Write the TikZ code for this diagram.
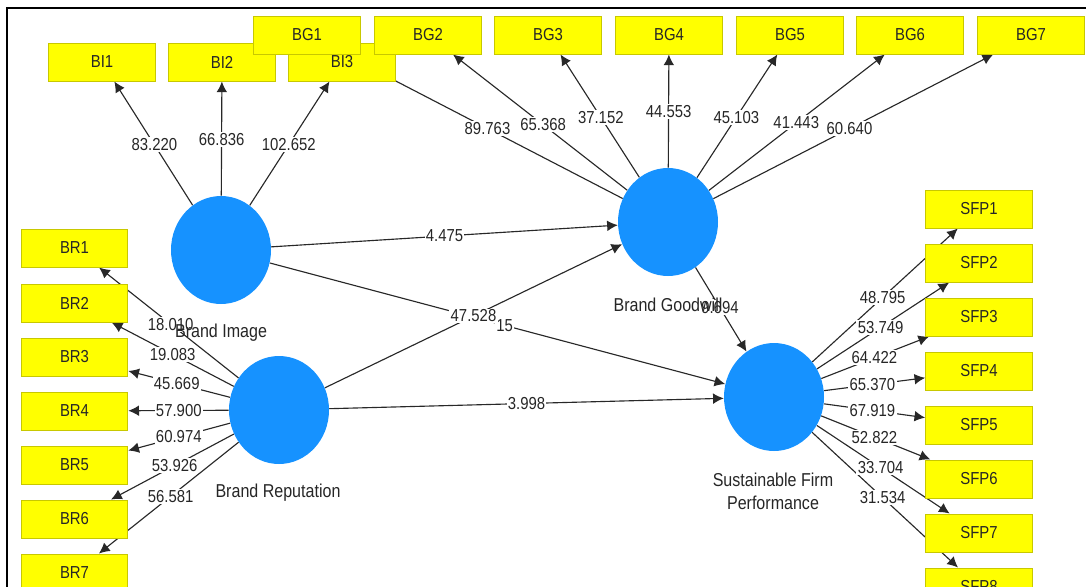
\documentclass[tikz,border=0pt]{standalone}
\usepackage{fontspec}
\setmainfont[FakeStretch=0.86]{Liberation Sans}
\usetikzlibrary{arrows.meta,shapes.geometric,calc}
\definecolor{lvblue}{RGB}{22,146,255}
\definecolor{mvyellow}{RGB}{255,255,0}
\definecolor{mvborder}{RGB}{200,200,0}
\definecolor{edgegray}{RGB}{40,40,40}
\pgfdeclarelayer{edges}
\pgfdeclarelayer{weights}
\pgfsetlayers{edges,weights,main}

\begin{document}
\begin{tikzpicture}[x=0.75pt,y=-0.75pt,
	item/.style={draw=mvborder,line width=0.75pt,fill=mvyellow,minimum width=80pt,minimum height=28.5pt,inner sep=0pt,font=\fontsize{13}{15}\selectfont,text=black!85},
	latent/.style={ellipse,fill=lvblue,minimum width=75pt,minimum height=81pt,inner sep=0pt},
	lvname/.style={font=\fontsize{14}{17}\selectfont,text=black!85,align=center},
	link/.style={draw=edgegray,line width=0.85pt,-{Latex[length=8pt,width=8pt]}},
	weight/.style={fill=white,inner sep=1pt,font=\fontsize{13}{15}\selectfont,text=black!85}] % pixel grid of the screenshot

	\useasboundingbox (0,0) rectangle (1086,586);
	\coordinate (F0) at (7,592);
	\coordinate (F1) at (7,8);
	\coordinate (F2) at (1092,8);
	\draw[line width=2pt] (F0) -- (F1) -- (F2);

	% indicators
	\node[item] (BI1) at (102,62) {BI1};
	\node[item] (BI2) at (222,62) {BI2};
	\node[item] (BI3) at (342,62) {BI3};
	\node[item] (BG1) at (307,35) {BG1};
	\node[item] (BG2) at (428,35) {BG2};
	\node[item] (BG3) at (548,35) {BG3};
	\node[item] (BG4) at (669,35) {BG4};
	\node[item] (BG5) at (790,35) {BG5};
	\node[item] (BG6) at (910,35) {BG6};
	\node[item] (BG7) at (1031,35) {BG7};
	\node[item] (BR1) at (74.5,248) {BR1};
	\node[item] (BR2) at (74.5,303) {BR2};
	\node[item] (BR3) at (74.5,357) {BR3};
	\node[item] (BR4) at (74.5,411) {BR4};
	\node[item] (BR5) at (74.5,465) {BR5};
	\node[item] (BR6) at (74.5,519) {BR6};
	\node[item] (BR7) at (74.5,573) {BR7};
	\node[item] (SFP1) at (979,209) {SFP1};
	\node[item] (SFP2) at (979,263) {SFP2};
	\node[item] (SFP3) at (979,317) {SFP3};
	\node[item] (SFP4) at (979,371) {SFP4};
	\node[item] (SFP5) at (979,425) {SFP5};
	\node[item] (SFP6) at (979,479) {SFP6};
	\node[item] (SFP7) at (979,533) {SFP7};
	\node[item] (SFP8) at (979,587) {SFP8};

	% constructs
	\node[latent] (BI) at (221,250) {};
	\node[latent] (BR) at (279,410) {};
	\node[latent] (BG) at (668,222) {};
	\node[latent] (SFP) at (774,397) {};
	\node[lvname] (nBI) at (221,333) {Brand Image};
	\node[lvname] (nBR) at (278,493) {Brand Reputation};
	\node[lvname] (nBG) at (668,305) {Brand Goodwill};
	\node[lvname] (nSFP) at (773,491) {Sustainable Firm\\Performance};

	\begin{pgfonlayer}{edges}
	\draw[link] (BI) -- (BI1);
	\draw[link] (BI) -- (BI2);
	\draw[link] (BI) -- (BI3);
	\draw[link] (BG) -- (BG1);
	\draw[link] (BG) -- (BG2);
	\draw[link] (BG) -- (BG3);
	\draw[link] (BG) -- (BG4);
	\draw[link] (BG) -- (BG5);
	\draw[link] (BG) -- (BG6);
	\draw[link] (BG) -- (BG7);
	\draw[link] (BR) -- (BR1);
	\draw[link] (BR) -- (BR2);
	\draw[link] (BR) -- (BR3);
	\draw[link] (BR) -- (BR4);
	\draw[link] (BR) -- (BR5);
	\draw[link] (BR) -- (BR6);
	\draw[link] (BR) -- (BR7);
	\draw[link] (SFP) -- (SFP1);
	\draw[link] (SFP) -- (SFP2);
	\draw[link] (SFP) -- (SFP3);
	\draw[link] (SFP) -- (SFP4);
	\draw[link] (SFP) -- (SFP5);
	\draw[link] (SFP) -- (SFP6);
	\draw[link] (SFP) -- (SFP7);
	\draw[link] (SFP) -- (SFP8);
	\draw[link] (BI) -- (BG);
	\draw[link] (BR) -- (BG);
	\draw[link] (BI) -- (SFP);
	\draw[link] (BR) -- (SFP);
	\draw[link] (BG) -- (SFP);
	\end{pgfonlayer}

	\begin{pgfonlayer}{weights}
	\node[weight] (wBI1) at ($(BI)!.56!(BI1)$) {83.220};
	\node[weight] (wBI2) at ($(BI)!.59!(BI2)$) {66.836};
	\node[weight] (wBI3) at ($(BI)!.56!(BI3)$) {102.652};
	\node[weight] (wBG1) at ($(BG)!.50!(BG1)$) {89.763};
	\node[weight] (wBG2) at ($(BG)!.52!(BG2)$) {65.368};
	\node[weight] (wBG3) at ($(BG)!.56!(BG3)$) {37.152};
	\node[weight] (wBG4) at ($(BG)!.59!(BG4)$) {44.553};
	\node[weight] (wBG5) at ($(BG)!.56!(BG5)$) {45.103};
	\node[weight] (wBG6) at ($(BG)!.53!(BG6)$) {41.443};
	\node[weight] (wBG7) at ($(BG)!.50!(BG7)$) {60.640};
	\node[weight] (wBR1) at ($(BR)!.53!(BR1)$) {18.010};
	\node[weight] (wBR2) at ($(BR)!.52!(BR2)$) {19.083};
	\node[weight] (wBR3) at ($(BR)!.50!(BR3)$) {45.669};
	\node[weight] (wBR4) at ($(BR)!.49!(BR4)$) {57.900};
	\node[weight] (wBR5) at ($(BR)!.49!(BR5)$) {60.974};
	\node[weight] (wBR6) at ($(BR)!.51!(BR6)$) {53.926};
	\node[weight] (wBR7) at ($(BR)!.53!(BR7)$) {56.581};
	\node[weight] (wSFP1) at ($(SFP)!.53!(SFP1)$) {48.795};
	\node[weight] (wSFP2) at ($(SFP)!.52!(SFP2)$) {53.749};
	\node[weight] (wSFP3) at ($(SFP)!.49!(SFP3)$) {64.422};
	\node[weight] (wSFP4) at ($(SFP)!.48!(SFP4)$) {65.370};
	\node[weight] (wSFP5) at ($(SFP)!.48!(SFP5)$) {67.919};
	\node[weight] (wSFP6) at ($(SFP)!.49!(SFP6)$) {52.822};
	\node[weight] (wSFP7) at ($(SFP)!.52!(SFP7)$) {33.704};
	\node[weight] (wSFP8) at ($(SFP)!.53!(SFP8)$) {31.534};
	\node[weight] (wBIBG) at ($(BI)!.50!(BG)$) {4.475};
	\node[weight] (wBISFP) at ($(BI)!.513!(SFP)$) {15};
	\node[weight] (wBRBG) at ($(BR)!.50!(BG)$) {47.528};
	\node[weight] (wBRSFP) at ($(BR)!.50!(SFP)$) {3.998};
	\node[weight] (wBGSFP) at ($(BG)!.49!(SFP)$) {9.694};
	\end{pgfonlayer}
\end{tikzpicture}
\end{document}
